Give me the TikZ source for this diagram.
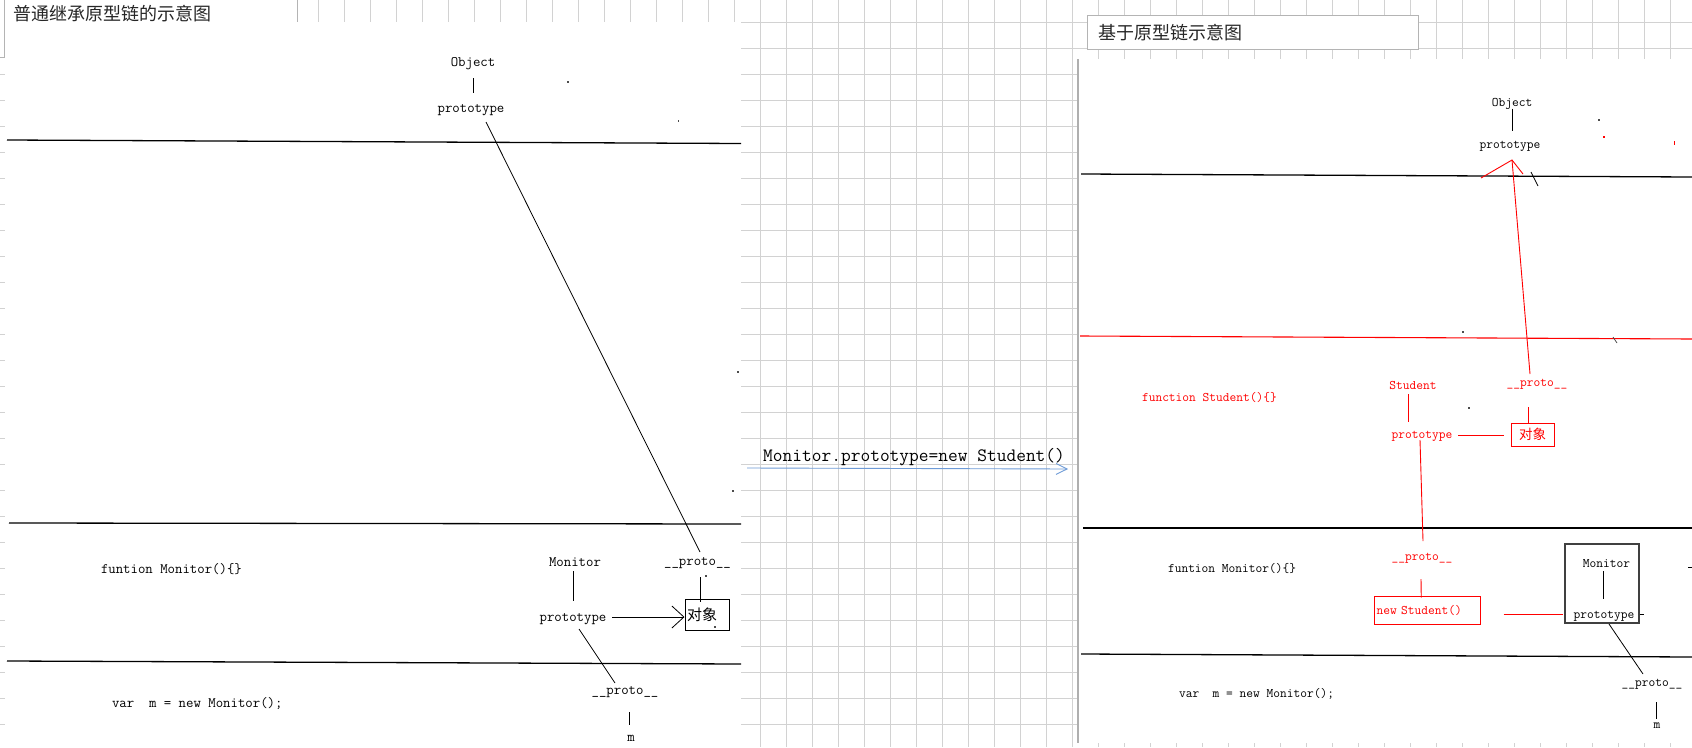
\documentclass[tikz,border=0pt]{standalone}
\usepackage{fontspec}
\newfontfamily\cjk{Noto Sans CJK SC}
\usetikzlibrary{calc,arrows.meta}
\definecolor{gridc}{RGB}{210,210,210}
\definecolor{boxg}{RGB}{180,180,180}
\definecolor{barg}{RGB}{175,175,175}
\definecolor{arrowblue}{RGB}{110,155,215}
\tikzset{
  lab/.style={inner sep=0pt, outer sep=0pt, anchor=base, font=\ttfamily\fontsize{14.4}{17}\selectfont},
  rlab/.style={inner sep=0pt, outer sep=0pt, anchor=base, font=\ttfamily\fontsize{13.1}{16}\selectfont},
  conn/.style={line width=0.8pt, black},
  rconn/.style={line width=0.9pt, red},
  divider/.style={line width=1.3pt, black},
  gridline/.style={line width=0.9pt, gridc},
  dotmark/.style={fill=black!70, minimum size=1.6pt, inner sep=0pt, draw=none},
}
\begin{document}
\begin{tikzpicture}[x=1pt, y=-1pt]
\useasboundingbox (0,0) rectangle (1692,747);
\fill[white] (0,0) rectangle (1692,747);
% background grid
\foreach \i in {0,...,64} { \draw[gridline] ({6.3+26*\i},0) -- ({6.3+26*\i},747); }
\foreach \j in {0,...,27} { \draw[gridline] (0,{22.3+26*\j}) -- (1692,{22.3+26*\j}); }
% left title box and panel
\fill[white] (-1,-1) rectangle (297,57);
\draw[boxg, line width=1pt] (297,-1) -- (297,57) -- (0,57);
\draw[boxg, line width=1pt] (4,-1) -- (4,57);
\fill[white] (5,22) rectangle (741,747);
\node[font=\cjk\fontsize{18}{20}\selectfont, anchor=west, inner sep=0pt, text=black!85] (ltitle) at (13,14) {普通继承原型链的示意图};
% right panel
\fill[white] (1079,59) rectangle (1692,743);
\draw[barg, line width=2.2pt] (1078,59) -- (1078,743);
\node[draw=boxg, fill=white, line width=1pt, anchor=north west, minimum height=34pt, text width=309pt, inner xsep=11pt, inner ysep=0pt, align=left, font=\cjk\fontsize{18}{20}\selectfont, text=black!85] (rtitle) at (1087,15) {基于原型链示意图};

% ---------- left diagram ----------
\draw[divider] (7,140) -- (741,143.5);
\draw[divider] (9,523) -- (741,524);
\draw[divider] (7,661) -- (741,664);

\node[lab] (lobj) at (473,66.5) {Object};
\node[lab] (lpt1) at (471,112) {prototype};
\node[lab, anchor=base west] (lfun) at (101,573) {funtion Monitor()\{\}};
\node[lab] (lmon) at (575,566) {Monitor};
\node[lab] (lpt2) at (573,621) {prototype};
\node[lab] (lpr1) at (697.5,565) {\_\_proto\_\_};
\node[draw, line width=1pt, minimum width=44pt, minimum height=31pt, text width=40pt, inner xsep=2pt, inner ysep=0pt, align=left, font=\cjk\fontsize{15}{17}\selectfont] (lbox) at (707,614.5) {对象};
\node[lab] (lpr2) at (625,694) {\_\_proto\_\_};
\node[lab] (lm) at (631,741) {m};
\node[lab, anchor=base west] (lvar) at (112,707) {var\ \ m = new Monitor();};

\draw[conn] ($(lobj.base)+(0,11.5)$) -- ($(lpt1.base)+(2,-19)$);
\draw[conn] ($(lpt1.base)+(15,10)$) -- ($(lpr1.base)+(2.5,-13)$);
\draw[conn] ($(lmon.base)+(-2,5)$) -- ($(lpt2.base)+(0,-20)$);
\draw[conn, -{Straight Barb[length=12pt,width=22pt]}] ($(lpt2.base)+(39,-4)$) -- ($(lbox.west)+(0,2.5)$);
\draw[conn] ($(lpr1.base)+(2.5,12)$) -- ($(lbox.north)+(-7,3)$);
\draw[conn] ($(lpt2.base)+(6,8)$) -- ($(lpr2.base)+(-10,-11)$);
\draw[conn] ($(lpr2.base)+(4,18)$) -- ($(lm.base)+(-2,-16)$);

\node[dotmark] (d1) at (568,82) {};
\node[dotmark] (d2) at (678.5,121) {};
\node[dotmark] (d3) at (738,372) {};
\node[dotmark] (d4) at (733,491) {};
\node[dotmark] (d5) at (706,576) {};
\node[dotmark] (d6) at (715,627) {};

% ---------- middle ----------
\node[anchor=base west, inner sep=0pt, font=\ttfamily\fontsize{18.9}{22}\selectfont] (mlabel) at (763,461) {Monitor.prototype=new Student()};
\coordinate (mstart) at (747,468);
\coordinate (mend) at (1068,469);
\draw[arrowblue, line width=0.9pt, -{Straight Barb[length=11pt,width=11pt]}] (mstart) -- (mend);

% ---------- right diagram ----------
\draw[divider] (1081,174) -- (1692,177);
\draw[divider, red, line width=1.1pt] (1080,336) -- (1692,339);
\draw[divider] (1083,528) -- (1692,528);
\draw[divider] (1081,654) -- (1692,657);

\node[rlab] (robj) at (1512,106) {Object};
\node[rlab] (rpt1) at (1510,148) {prototype};
\node[rlab, text=red] (rstu) at (1413,389) {Student};
\node[rlab, text=red] (rpt2) at (1422,438) {prototype};
\node[rlab, text=red, anchor=base west] (rfun) at (1142,401) {function Student()\{\}};
\node[draw=red, text=red, line width=1pt, minimum width=43pt, minimum height=23pt, inner sep=0pt, font=\cjk\fontsize{13.5}{15}\selectfont] (rbox) at (1532.5,434.5) {对象};
\node[rlab, text=red] (rpr1) at (1537,386) {\_\_proto\_\_};
\node[rlab, text=red] (rpr2) at (1422,560) {\_\_proto\_\_};
\node[draw=red, text=red, line width=1pt, minimum height=28pt, text width=101.5pt, inner xsep=2pt, inner ysep=0pt, align=left, font=\ttfamily\fontsize{13.1}{16}\selectfont] (rnew) at (1427.25,610) {new Student()};
\node[rlab, anchor=base west] (rfun2) at (1168,572) {funtion Monitor()\{\}};
\node[draw=black!75, line width=1.2pt, minimum width=74pt, minimum height=79pt, inner sep=0pt] (rmbox) at (1602,583.5) {};
\node[rlab] (rmon) at (1606.5,567) {Monitor};
\node[rlab] (rpt3) at (1604,618) {prototype};
\node[rlab] (rpr3) at (1652,686) {\_\_proto\_\_};
\node[rlab] (rm) at (1657,728) {m};
\node[rlab, anchor=base west] (rvar) at (1179,697) {var\ \ m = new Monitor();};

\draw[conn] ($(robj.base)+(0,2.5)$) -- ($(rpt1.base)+(2,-17)$);
\draw[rconn] ($(rpr1.base)+(-7,-12)$) -- ($(rpt1.base)+(2,12)$);
\draw[rconn] ($(rpt1.base)+(-29,30)$) -- ($(rpt1.base)+(2,12)$) -- ($(rpt1.base)+(13,26)$);
\draw[rconn] ($(rstu.base)+(-5,5)$) -- ($(rpt2.base)+(-14,-16)$);
\draw[rconn] ($(rpt2.base)+(36,-3)$) -- ($(rbox.west)+(-7,0.5)$);
\draw[rconn] ($(rpr1.base)+(-9,21)$) -- ($(rbox.north)+(-4.5,0)$);
\draw[rconn] ($(rpt2.base)+(-2,2)$) -- ($(rpr2.base)+(1,-19)$);
\draw[rconn] ($(rpr2.base)+(-1,19)$) -- ($(rnew.north)+(-6,2)$);
\draw[rconn] ($(rnew.east)+(23,4)$) -- ($(rmbox.west)+(-1,30.5)$);
\draw[conn] ($(rmon.base)+(-3,4)$) -- ($(rpt3.base)+(-0.5,-19)$);
\draw[conn] ($(rmbox.east)+(0,30.5)$) -- ($(rmbox.east)+(4,30.5)$);
\draw[conn] ($(rpt3.base)+(5,6)$) -- ($(rpr3.base)+(-9,-12)$);
\draw[conn] ($(rpr3.base)+(4,16)$) -- ($(rm.base)+(-1,-9)$);

% small stray marks
\draw[conn] (1531,172) -- (1538,186);
\draw[conn, black!70] (1613,337) -- (1617,343);
\draw[conn] (1688,567) -- (1692,567);
\draw[red, line width=1pt] (1674.5,141) -- (1674.5,145);
\node[dotmark, fill=red] (d7) at (1604,137) {};
\node[dotmark] (d8) at (1599,120) {};
\node[dotmark] (d9) at (1463,332) {};
\node[dotmark] (d10) at (1469,408) {};
\end{tikzpicture}
\end{document}
